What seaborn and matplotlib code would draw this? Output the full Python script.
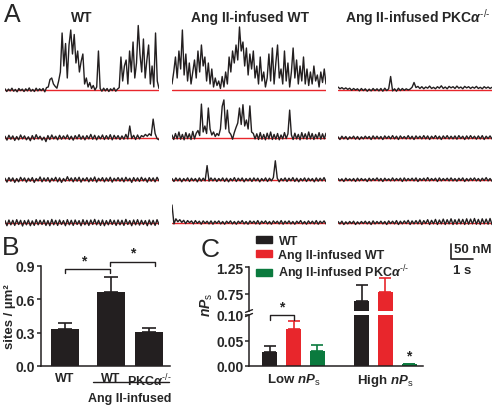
import numpy as np
import pandas as pd
import matplotlib
matplotlib.use("Agg")
import matplotlib.pyplot as plt
import matplotlib.transforms as mtransforms
from matplotlib.patches import Patch
import seaborn as sns

# ---- panel A: Ca2+ sparklet traces (nM above baseline) ----
wt_r1 = [4, -5, 3, -3, 6, -4, 2, -6, 5, -2, 3, -5, 4, -3, 7, -4, 2, -5, 6, -3,
         4, -2, 5, -6, 8, 10, 35, 40, 20, 12, 6, 30, 60, 190, 80, 155, 40, 150, 200, 120,
         185, 90, 130, 60, 95, 120, 20, 40, 10, 25, 5, 15, 0, 10, 130, 5, -4, 6, -3, 5,
         -5, 4, -2, 7, -4, 3, 8, 110, 30, 80, 100, 20, 130, 60, 160, 40, 90, 215, 120, 60,
         170, 40, 100, 150, 20, 80, 10, 190, 30, 5]
ang_r1 = [20, 60, 110, 40, 130, 70, 200, 50, 120, 30, 90, 20, 60, 100, 40, 130, 60, 150, 80, 110,
          30, 90, 20, 70, 10, 40, 15, 30, 5, 45, 10, 60, 20, 110, 60, 130, 90, 150, 100, 210,
          130, 160, 80, 140, 50, 120, 70, 130, 40, 80, 20, 110, 30, 60, 10, 40, 120, 30, 140, 20,
          90, 150, 40, 70, 20, 130, 30, 90, 10, 60, 140, 40, 100, 20, 80, 30, 110, 20, 70, 15,
          60, 20, 80, 30, 50, 10, 60, 25, 70, 20]
pkc_r1 = [10, 4, 8, 3, 7, 2, 6, -1, 5, 0, 4, -3, 5, -2, 4, -4, 3, -3, 5, -2,
          4, -3, 5, -4, 6, -2, 4, 45, -3, 4, -4, 6, -2, 5, -1, 4, 0, 3, 9, 25,
          8, 12, 5, 11, 4, 10, 6, 13, 5, 9, 4, 11, 6, 14, 5, 10, 4, 12, 7, 11,
          5, 13, 6, 10, 4, 12, 7, 11, 5, 10, 6, 12, 5, 9, 4, 11, 6, 10, 5, 9]
wt_r2 = [6, -7, 9, -4, 7, -8, 5, -6, 10, -3, 7, -6, 4, -9, 8, -5, 11, -3, 6, -7,
         3, -12, 8, -5, 10, -3, 6, -6, 9, -4, 7, -3, 10, -5, 6, -7, 8, -3, 11, -4,
         7, -6, 8, -3, 12, -4, 9, -6, 7, -3, 10, -5, 8, -4, 11, -6, 9, -3, 8, -5,
         7, -4, 12, -3, 40, -2, 9, -5, 10, -3, 8, 4, 12, 6, 14, 8, 63, 15, -2, -6]
ang_r2 = [10, -5, 15, -3, 20, -4, 12, -6, 18, -2, 14, -5, 22, -3, 16, 25, 8, 113, 20, 40,
          15, 100, 30, 10, 20, 5, 15, 8, 30, 105, 127, 30, 93, 20, 12, -4, 18, 35, 50, 100,
          45, 111, 40, 60, 30, 107, 20, 15, -3, 14, -5, 18, -4, 12, -6, 16, -3, 20, -5, 12,
          -4, 15, -6, 10, -3, 18, -2, 14, 93, 10, -5, 16, -3, 12, -6, 18, -2, 14, -4, 20,
          -3, 15, -5, 12, -2, 18, -4, 14, -3, 16]
pkc_r2 = [4, -5, 6, -3, 5, -5, 4, -2, 6, -4, 5, -5, 4, -3, 6, -2, 5, -5, 7, -3,
          6, -3, 5, -5, 7, -2, 6, -3, 8, -3, 6, -5, 7, -2, 5, -3, 8, -3, 6, -5,
          7, -2, 6, -3, 8, -3, 7, -5, 6, -2, 8, -3, 6, -5, 7, -2, 8, -3, 6, -3,
          7, -4, 8, -2, 6, -5, 7, -3, 8, -2, 6, -4, 7, -3, 8, -5, 6, -2, 7, -3]
wt_r3 = [6, -7, 8, -4, 7, -8, 5, -6, 9, -3, 7, -7, 6, -4, 8, -8, 5, -3, 10, -6,
         7, -4, 8, -7, 6, -3, 9, -6, 7, -8, 5, -4, 11, -3, 7, -6, 8, -4, 9, -7,
         6, -3, 8, -6, 7, -4, 10, -7, 6, -3, 8, -6, 7, -4, 9, -7, 6, -3, 8, -4,
         7, -6, 9, -3, 6, -8, 8, -4, 7, -5, 9, -3, 6, -7, 8, -4, 7, -6, 9, -3]
ang_r3 = [5, -5, 7, -3, 6, -6, 5, -3, 7, -5, 6, -3, 5, -6, 7, -4, 6, -3, 48, -4,
          7, -3, 6, -5, 5, -3, 7, -5, 6, -6, 5, -3, 8, -5, 6, -3, 7, -6, 5, -3,
          6, -5, 7, -3, 6, -6, 5, -3, 7, -5, 6, -3, 8, 64, 6, -6, 5, -3, 7, -5,
          6, -3, 8, -5, 6, -6, 5, -3, 7, -5, 6, -3, 5, -6, 7, -4, 6, -3, 8, -5]
pkc_r3 = [5, -3, 4, -5, 6, -2, 4, -3, 5, -5, 6, -3, 5, -2, 4, -5, 6, -3, 5, -2,
          7, -3, 5, -5, 6, -2, 4, -3, 7, -3, 5, -2, 6, -5, 7, -3, 5, -2, 6, -3,
          7, -5, 5, -2, 6, -3, 8, -3, 5, -2, 6, -5, 7, -3, 5, -2, 6, -3, 7, -3,
          5, -4, 6, -2, 7, -5, 5, -3, 6, -2, 7, -3, 5, -4, 6, -2, 8, -3, 5, -4]
wt_r4 = [8, -9, 10, -6, 9, -8, 11, -5, 9, -10, 8, -6, 10, -9, 7, -8, 11, -6, 9, -5,
         10, -8, 8, -9, 12, -6, 9, -8, 10, -5, 8, -9, 11, -6, 9, -8, 10, -5, 8, -9,
         11, -6, 9, -8, 10, -5, 12, -6, 9, -8, 10, -9, 8, -6, 11, -5, 9, -8, 10, -6,
         9, -8, 12, -5, 8, -9, 10, -6, 11, -7, 9, -5, 8, -9, 10, -6, 9, -8, 11, -5]
ang_r4 = [60, -3, 14, 4, 11, 2, 9, -2, 8, 1, 7, -3, 8, -1, 6, -4, 7, -1, 6, -3,
          7, -4, 6, -1, 7, -3, 5, -4, 6, -1, 7, -3, 5, -4, 6, -1, 8, -3, 5, -4,
          7, -1, 6, -3, 8, -4, 6, -1, 7, -3, 5, -4, 7, -1, 6, -3, 8, -4, 6, -2,
          7, -3, 5, -4, 6, -1, 8, -3, 5, -4, 7, -2, 6, -3, 8, -4, 6, -1, 7, -3]
pkc_r4 = [5, -3, 6, -5, 4, -3, 5, -2, 6, -5, 4, -3, 5, -2, 6, -3, 5, -5, 7, -3,
          5, -2, 6, -3, 5, -5, 7, -2, 6, -3, 8, -5, 6, -3, 7, -2, 9, -5, 7, -3,
          8, -3, 10, -5, 8, -2, 11, -5, 9, -3, 12, -5, 10, -3, 13, -5, 11, -3, 14, -5,
          11, -4, 13, -3, 12, -5, 14, -4, 13, -3, 15, -4, 12, -5, 14, -3, 13, -4, 15, -5]

PKC = r"PKC$\alpha^{\text{-/-}}$"
trace_titles = ["WT", "Ang II-infused WT", "Ang II-infused " + PKC]
trace_grid = [[wt_r1, ang_r1, pkc_r1],
              [wt_r2, ang_r2, pkc_r2],
              [wt_r3, ang_r3, pkc_r3],
              [wt_r4, ang_r4, pkc_r4]]
TRACE_SEC = 7.0

# ---- panel B: sparklet site density ----
b_labels = ["WT", "WT", PKC]
b_pos = [0.0, 1.0, 1.82]
b_mean = [0.33, 0.67, 0.305]
b_sem = [0.055, 0.13, 0.035]

# ---- panel C: nPs ----
c_groups = ["Low", "High"]
c_genos = ["WT", "Ang II-infused WT", "Ang II-infused " + PKC]
c_low_mean = [0.028, 0.072, 0.030]
c_low_sem = [0.011, 0.016, 0.011]
c_high_mean = [0.62, 0.79, 0.003]
c_high_sem = [0.30, 0.26, 0.0]

BLACK = "#231f20"
RED = "#e8262c"
GREEN = "#0b7a3e"

sns.set_style("white")
plt.rcParams["font.family"] = ["Liberation Sans", "DejaVu Sans"]
plt.rcParams["mathtext.fontset"] = "custom"
plt.rcParams["mathtext.rm"] = "Liberation Sans"
plt.rcParams["mathtext.it"] = "Liberation Sans:bold:italic"
plt.rcParams["mathtext.bf"] = "Liberation Sans:bold"

W, H = 496, 410
fig = plt.figure(figsize=(W / 100, H / 100), dpi=100)


def px_axes(left, top, width, height):
    return fig.add_axes([left / W, 1 - (top + height) / H, width / W, height / H])


def px_text(x, y, s, **kw):
    fig.text(x / W, 1 - y / H, s, **kw)


# ---------------- panel A ----------------
NM_PX = 0.3
Y_LO, Y_HI = -20, 220
col_left = [5, 172, 338]
row_base = [91, 139, 181, 224]
for r, row in enumerate(trace_grid):
    for c, vals in enumerate(row):
        ax = px_axes(col_left[c], row_base[r] - Y_HI * NM_PX, 154, (Y_HI - Y_LO) * NM_PX)
        t = np.linspace(0, TRACE_SEC, len(vals))
        ax.axhline(0, color=RED, lw=1.0)
        sns.lineplot(x=t, y=vals, ax=ax, color=BLACK, lw=1.0, errorbar=None)
        ax.set_xlim(0, TRACE_SEC)
        ax.set_ylim(Y_LO, Y_HI)
        ax.axis("off")

for x, title in zip([82, 250, 418], trace_titles):
    px_text(x, 18, title, ha="center", va="center", fontsize=10, fontweight="bold")
px_text(4, 3, "A", ha="left", va="top", fontsize=18)

# scale bar: 50 nM / 1 s
axS = px_axes(451, 245, 22, 15)
axS.plot([0, 0, 1], [50, 0, 0], color=BLACK, lw=1.2, clip_on=False)
axS.set_xlim(0, 1)
axS.set_ylim(0, 50)
axS.axis("off")
px_text(454, 250, "50 nM", ha="left", va="center", fontsize=9.5, fontweight="bold")
px_text(462, 271, "1 s", ha="center", va="center", fontsize=9.5, fontweight="bold")

# ---------------- panel B ----------------
axB = px_axes(41, 267, 129, 100)
dfB = pd.DataFrame({"pos": b_pos, "density": b_mean})
sns.barplot(data=dfB, x="pos", y="density", native_scale=True, width=0.74,
            color=BLACK, saturation=1, errorbar=None, linewidth=0, ax=axB)
axB.errorbar(b_pos, b_mean, yerr=[np.zeros(len(b_sem)), b_sem], fmt="none",
             ecolor=BLACK, elinewidth=1.2, capsize=5, capthick=1.2)
axB.set_xlim(-0.52, 2.28)
axB.set_ylim(0, 0.9)
axB.set_yticks([0, 0.3, 0.6, 0.9], ["0.0", "0.3", "0.6", "0.9"])
axB.set_xticks(b_pos, b_labels)
axB.tick_params(axis="y", length=3, width=1.1, direction="out", pad=1, left=True)
axB.tick_params(axis="x", length=0, pad=4)
for lab in axB.get_yticklabels():
    lab.set_fontweight("bold")
    lab.set_fontsize(10)
for lab in axB.get_xticklabels():
    lab.set_fontweight("bold")
    lab.set_fontsize(9)
sns.despine(ax=axB)
for s in ("left", "bottom"):
    axB.spines[s].set_linewidth(1.1)
    axB.spines[s].set_color(BLACK)
axB.set_xlabel("")
axB.set_ylabel("sites / µm²", fontsize=9.5, fontweight="bold")
axB.yaxis.set_label_coords(-0.19, 0.5)

# significance brackets
for x0, x1, y, sx, sy in [(0.0, 0.98, 0.873, 0.41, 0.95), (0.98, 1.96, 0.94, 1.48, 1.02)]:
    axB.plot([x0, x0, x1, x1], [y - 0.036, y, y, y - 0.036], color=BLACK, lw=1.0, clip_on=False)
    axB.text(sx, sy, "*", ha="center", va="center", fontsize=10, fontweight="bold")

trB = mtransforms.blended_transform_factory(axB.transData, axB.transAxes)
axB.plot([0.61, 2.26], [-0.16, -0.16], color=BLACK, lw=1.0, transform=trB, clip_on=False)
axB.text(1.41, -0.32, "Ang II-infused", transform=trB, ha="center", va="center",
         fontsize=9, fontweight="bold")
px_text(2, 236, "B", ha="left", va="top", fontsize=19)

# ---------------- panel C ----------------
dfC = pd.DataFrame({
    "group": np.repeat(c_groups, len(c_genos)),
    "geno": c_genos * 2,
    "nps": c_low_mean + c_high_mean,
    "sem": c_low_sem + c_high_sem,
})
pal = dict(zip(c_genos, [BLACK, RED, GREEN]))

axC = px_axes(249, 316, 174, 51)
axCt = px_axes(249, 268, 174, 44)
for ax in (axC, axCt):
    ax.patch.set_alpha(0)
    sns.barplot(data=dfC, x="group", y="nps", hue="geno", palette=pal, saturation=1,
                width=0.77, gap=0.365, errorbar=None, linewidth=0, legend=False, ax=ax)
    centers = []
    for cont, geno in zip(ax.containers, c_genos):
        xs = [b.get_x() + b.get_width() / 2 for b in cont]
        sub = dfC[dfC["geno"] == geno]
        ax.errorbar(xs, sub["nps"], yerr=[np.zeros(len(sub)), sub["sem"]], fmt="none",
                    ecolor=pal[geno], elinewidth=1.2, capsize=4.5, capthick=1.2)
        centers.append(xs)
    ax.set_xlim(-0.484, 1.408)
    ax.set_xlabel("")
    ax.set_ylabel("")

axC.set_ylim(0, 0.10)
axC.set_yticks([0, 0.05, 0.10], ["0.00", "0.05", "0.10"])
axC.set_xticks([0, 1], [r"Low $nP_{\mathrm{s}}$", r"High $nP_{\mathrm{s}}$"])
axC.tick_params(axis="y", length=3, width=1.1, direction="out", pad=1, left=True)
axC.tick_params(axis="x", length=0, pad=4)
sns.despine(ax=axC)

axCt.set_ylim(0.435, 1.25)
axCt.set_yticks([0.75, 1.25], ["0.75", "1.25"])
axCt.set_xticks([])
axCt.tick_params(axis="y", length=3, width=1.1, direction="out", pad=1, left=True)
sns.despine(ax=axCt, bottom=True)

for ax in (axC, axCt):
    for s in ("left", "bottom"):
        ax.spines[s].set_linewidth(1.1)
        ax.spines[s].set_color(BLACK)
    for lab in ax.get_yticklabels():
        lab.set_fontweight("bold")
        lab.set_fontsize(10)
    for lab in ax.get_xticklabels():
        lab.set_fontweight("bold")
        lab.set_fontsize(9.5)

# axis break marks
axCt.plot([-0.02, 0.0, 0.02], [-0.03, 0.0, 0.03], transform=axCt.transAxes,
          color=BLACK, lw=1.0, clip_on=False)
axC.plot([-0.02, 0.0, 0.02], [0.97, 1.0, 1.03], transform=axC.transAxes,
         color=BLACK, lw=1.0, clip_on=False)

# significance: low WT vs low Ang II WT, and high PKCa-/-
x0, x1 = centers[0][0], centers[1][0]
axC.plot([x0, x0, x1, x1], [0.090, 0.100, 0.100, 0.090], color=BLACK, lw=1.0, clip_on=False)
axC.text((x0 + x1) / 2, 0.116, "*", ha="center", va="center", fontsize=10, fontweight="bold")
axC.text(centers[2][1], 0.020, "*", ha="center", va="center", fontsize=10, fontweight="bold")

px_text(207, 305, r"$nP_{\mathrm{s}}$", ha="center", va="center", rotation=90, fontsize=10)
px_text(201, 238, "C", ha="left", va="top", fontsize=19)

handles = [Patch(color=pal[g]) for g in c_genos]
fig.legend(handles, c_genos, loc="upper left", bbox_to_anchor=(256 / W, 1 - 236 / H),
           frameon=False, handlelength=1.3, handleheight=0.45, handletextpad=0.5,
           labelspacing=0.15, borderpad=0, borderaxespad=0,
           prop=dict(weight="bold", size=9))

fig.savefig("out.png", dpi=100)
